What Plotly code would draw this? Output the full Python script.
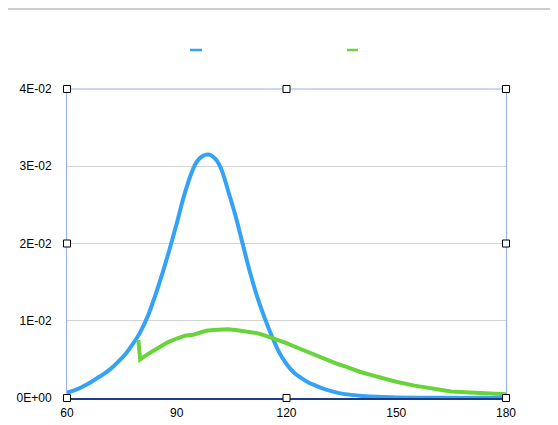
import plotly.graph_objects as go

# ---- data ----
blue_x = [60, 62, 64, 66, 68, 70, 72, 74, 76, 78, 80, 82, 84, 86, 88, 90, 92, 94, 95,
          96, 97, 98, 99, 100, 101, 102, 103, 104, 106, 108, 110, 112, 114, 116, 118,
          120, 122, 124, 126, 128, 130, 133, 136, 140, 145, 150, 160, 170, 180]
blue_y = [0.0007, 0.0010, 0.0014, 0.0019, 0.0025, 0.0031, 0.0038, 0.0047, 0.0057,
          0.0070, 0.0085, 0.0105, 0.0131, 0.0160, 0.0192, 0.0226, 0.0262, 0.0291,
          0.0302, 0.0309, 0.0313, 0.0315, 0.0315, 0.0312, 0.0307, 0.0298, 0.0285,
          0.0269, 0.0237, 0.0200, 0.0163, 0.0131, 0.0104, 0.0080, 0.0059, 0.0044,
          0.0033, 0.0026, 0.0020, 0.0016, 0.0012, 0.0008, 0.0005, 0.0003, 0.00015,
          0.00008, 0.00003, 0.00001, 0.0]

green_x = [79.5, 80, 82.5, 85, 87.5, 90, 92.5, 94.5, 96, 98, 100, 102, 104, 106, 108,
           110, 112, 114, 116, 118, 120, 122, 124, 126, 128, 130, 132, 134, 136, 138,
           140, 143, 146, 150, 155, 160, 165, 170, 175, 180]
green_y = [0.0075, 0.0050, 0.0058, 0.0065, 0.0072, 0.0077, 0.0081, 0.0082, 0.0084,
           0.0087, 0.0088, 0.0089, 0.0089, 0.0088, 0.0087, 0.0086, 0.0084, 0.0081,
           0.0078, 0.0074, 0.0071, 0.0067, 0.0063, 0.0059, 0.0055, 0.0051, 0.0047,
           0.0044, 0.0041, 0.0037, 0.0034, 0.0030, 0.0026, 0.0021, 0.0016, 0.0012,
           0.00085, 0.0007, 0.0006, 0.0005]

x_ticks = [60, 90, 120, 150, 180]
y_ticks = [0, 0.01, 0.02, 0.03, 0.04]
y_tick_text = ["0E+00", "1E-02", "2E-02", "3E-02", "4E-02"]

BLUE = "#34a3f5"
GREEN = "#67d43a"
AXIS_BLUE = "#93aef2"
NAVY = "#1f3b8c"

fig = go.Figure()
fig.add_trace(go.Scatter(x=blue_x, y=blue_y, mode="lines", name="Series 1",
                         line=dict(color=BLUE, width=4, shape="spline", smoothing=1.0)))
fig.add_trace(go.Scatter(x=green_x, y=green_y, mode="lines", name="Series 2",
                         line=dict(color=GREEN, width=4)))

shapes = []
# toolbar separator line at the very top
shapes.append(dict(type="line", xref="paper", yref="paper", x0=-0.2, x1=1.2,
                   y0=1.259, y1=1.259, line=dict(color="#bdbdbd", width=1.5)))
# top border of plot
shapes.append(dict(type="line", xref="paper", yref="paper", x0=0, x1=1, y0=1, y1=1,
                   line=dict(color=AXIS_BLUE, width=1)))
# legend swatches
shapes.append(dict(type="line", xref="paper", yref="paper", x0=0.2802, x1=0.3075,
                   y0=1.1262, y1=1.1262, line=dict(color=BLUE, width=2.5)))
shapes.append(dict(type="line", xref="paper", yref="paper", x0=0.6378, x1=0.6629,
                   y0=1.1262, y1=1.1262, line=dict(color=GREEN, width=2.5)))
# selection handles
handles = [(0, 1), (0.5, 1), (1, 1), (0, 0.5), (1, 0.5), (0, 0), (0.5, 0), (1, 0)]
for hx, hy in handles:
    shapes.append(dict(type="rect", xref="paper", yref="paper", xsizemode="pixel",
                       ysizemode="pixel", xanchor=hx, yanchor=hy,
                       x0=-3.5, x1=3.5, y0=-3.5, y1=3.5,
                       fillcolor="white", line=dict(color="black", width=1), layer="above"))

fig.update_layout(
    width=550, height=417,
    margin=dict(l=59, r=52, t=81, b=27),
    paper_bgcolor="white", plot_bgcolor="white",
    showlegend=False,
    font=dict(family="Liberation Sans, Arial, sans-serif", size=12, color="#000000"),
    shapes=shapes,
    xaxis=dict(range=[60, 180], tickvals=x_ticks, showgrid=False, zeroline=False,
               showline=True, linecolor=NAVY, linewidth=1.5, mirror=False,
               ticks="outside", ticklen=3, tickcolor="rgba(0,0,0,0)", automargin=False,
               layer="below traces", tickfont=dict(size=12, color="#000000")),
    yaxis=dict(range=[0, 0.04], tickvals=y_ticks, ticktext=y_tick_text,
               showgrid=True, gridcolor="#d3d3d3", gridwidth=1, zeroline=False,
               showline=True, linecolor=AXIS_BLUE, linewidth=1, mirror=True,
               ticks="outside", ticklen=12, tickcolor="rgba(0,0,0,0)", automargin=False,
               layer="below traces", tickfont=dict(size=12, color="#000000")),
)

fig.write_html("out.html")
